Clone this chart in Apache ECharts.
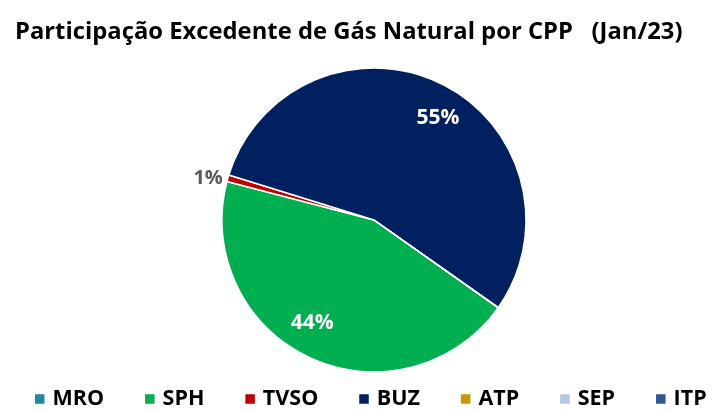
<!DOCTYPE html>
<html>
<head>
<meta charset="utf-8">
<script src="https://cdn.jsdelivr.net/npm/echarts@6/dist/echarts.min.js"></script>
<style>
html,body{margin:0;padding:0;background:#fff;}
#chart{width:713px;height:412px;}
</style>
</head>
<body>
<div id="chart"></div>
<script>
const titleText = 'Participação Excedente de Gás Natural por CPP   (Jan/23)';
const categories = ['MRO', 'SPH', 'TVSO', 'BUZ', 'ATP', 'SEP', 'ITP'];
const values = [0, 44.3, 0.7, 55.0, 0, 0, 0];
const colors = ['#1B8A9A', '#00B050', '#C00000', '#002060', '#C89800', '#B4C7E7', '#2F5597'];

const FONT = 'Open Sans';
const pct = p => Math.round(p.percent) + '%';

const mainData = categories.map((name, i) => ({
  name: name,
  value: values[i],
  itemStyle: { color: colors[i] },
  label: { show: values[i] > 0 && values[i] < 5 }
}));
const labelData = categories.map((name, i) => ({
  name: name,
  value: values[i],
  itemStyle: { color: 'rgba(0,0,0,0)', borderWidth: 0 },
  label: { show: values[i] >= 5 }
}));
const legendData = categories.map((name, i) => ({
  name: name,
  itemStyle: { color: colors[i], borderWidth: 0, opacity: 1 }
}));

const chart = echarts.init(document.getElementById('chart'), null, { renderer: 'canvas' });
chart.setOption({
  animation: false,
  backgroundColor: '#ffffff',
  color: colors,
  title: {
    text: titleText,
    left: 10,
    top: 15,
    textStyle: { fontFamily: FONT, fontWeight: 'bold', fontSize: 23.8, color: '#000000' }
  },
  legend: {
    data: legendData,
    bottom: 2,
    left: 35,
    padding: 0,
    itemWidth: 9.5,
    itemHeight: 9.5,
    itemGap: 41,
    icon: 'rect',
    itemStyle: { borderWidth: 0 },
    textStyle: { fontFamily: FONT, fontWeight: 'bold', fontSize: 21.5, color: '#000000', padding: [0, 0, 0, 3] }
  },
  series: [
    {
      type: 'pie',
      name: 'main',
      center: [374, 220],
      radius: [0, 152],
      startAngle: -35.2,
      clockwise: true,
      avoidLabelOverlap: false,
      data: mainData,
      itemStyle: { borderColor: '#ffffff', borderWidth: 1.5 },
      label: {
        position: 'outside',
        formatter: pct,
        fontFamily: FONT,
        fontWeight: 'bold',
        fontSize: 20,
        color: '#595959',
        distanceToLabelLine: 4
      },
      labelLine: { show: false, length: 0, length2: 1 },
      emphasis: { disabled: true }
    },
    {
      type: 'pie',
      name: 'labels',
      silent: true,
      center: [374, 220],
      radius: [82, 152],
      startAngle: -41.2,
      clockwise: true,
      avoidLabelOverlap: false,
      data: labelData,
      label: {
        position: 'inside',
        formatter: pct,
        fontFamily: FONT,
        fontWeight: 'bold',
        fontSize: 21,
        color: '#ffffff',
        opacity: 1
      },
      labelLine: { show: false },
      emphasis: { disabled: true }
    }
  ]
});
</script>
</body>
</html>
